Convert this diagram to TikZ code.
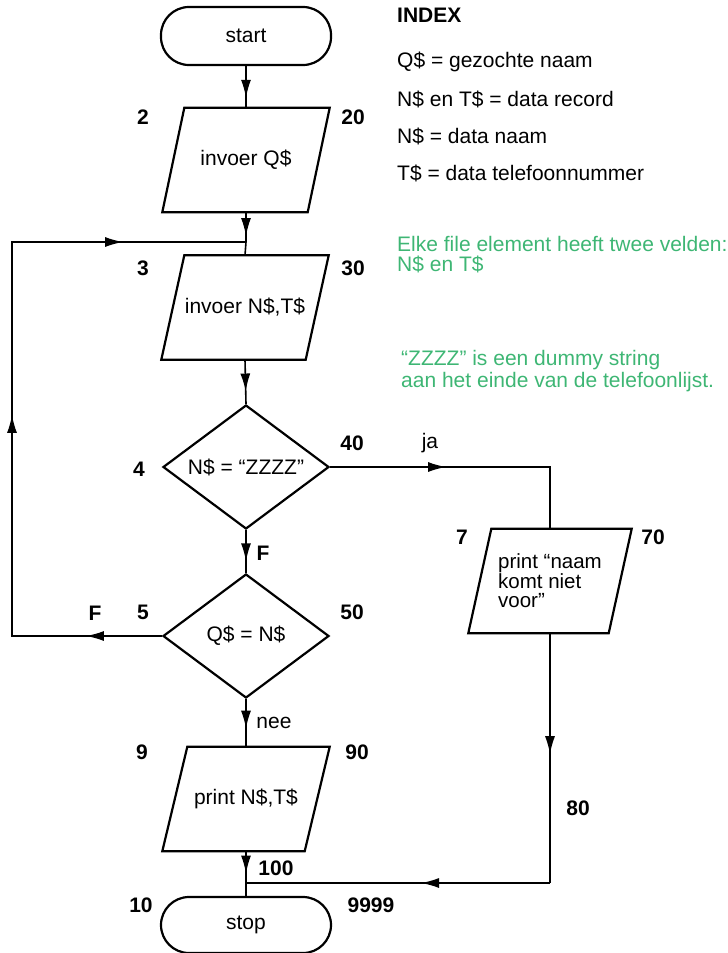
\documentclass[tikz,border=0pt]{standalone}
\usepackage{fontspec}
\setmainfont{Liberation Sans}
\usetikzlibrary{shapes.geometric,arrows.meta,decorations.markings,calc}
\definecolor{notegreen}{RGB}{62,182,116}
\newcommand\bodyfont{\fontsize{21}{25}\selectfont}
\newcommand\ioframe[2]{\draw[shapeline] (#1.south west) -- ($(#1.north west)+(#2,0)$) -- (#1.north east) -- ($(#1.south east)+(-#2,0)$) -- cycle;}
\tikzset{
  arr/.tip={Latex[length=18pt,width=10pt]},
  shapeline/.style={line width=2.2pt, draw=black, line join=miter},
  conn/.style={line width=1.6pt},
  arrowat/.style={postaction={decorate}, decoration={markings, mark=at position #1 with {\arrow{arr}}}},
  twoarrows/.style 2 args={postaction={decorate}, decoration={markings, mark=at position #1 with {\arrow{arr}}, mark=at position #2 with {\arrow{arr}}}},
  threearrows/.style n args={3}{postaction={decorate}, decoration={markings, mark=at position #1 with {\arrow{arr}}, mark=at position #2 with {\arrow{arr}}, mark=at position #3 with {\arrow{arr}}}},
  term/.style={draw, line width=2.2pt, rectangle, rounded corners=28pt, minimum width=170pt, minimum height=58pt, inner sep=0pt, font=\bodyfont},
  iobox/.style={rectangle, minimum width=167pt, minimum height=104pt, inner sep=0pt, font=\bodyfont},
  decision/.style={draw, line width=2.2pt, diamond, minimum width=166pt, minimum height=124pt, inner sep=0pt, shape aspect=1.34, font=\bodyfont},
  num/.style={font=\bodyfont\bfseries, inner sep=0pt},
  lbl/.style={font=\bodyfont, inner sep=0pt},
  idx/.style={font=\bodyfont, inner sep=0pt, anchor=west},
  note/.style={text=notegreen, inner sep=0pt, anchor=west, align=left},
}
\begin{document}
\begin{tikzpicture}[x=1pt,y=-1pt]
\useasboundingbox (0,0) rectangle (728,953);

% shapes
\node[term] (start) at (246,36) {start};
\node[iobox] (io1) at (246,160) {invoer Q\$};
\ioframe{io1}{22}
\node[iobox] (io2) at (245,307.5) {invoer N\$,T\$};
\ioframe{io2}{23}
\node[decision] (d1) at (246,467) {N\$ = “ZZZZ”};
\node[decision] (d2) at (246,636) {Q\$ = N\$};
\node[iobox, minimum width=163pt, align=left, font=\fontsize{20.5}{19.5}\selectfont] (io3) at (550,581) {print “naam\\komt niet\\voor”};
\ioframe{io3}{23}
\node[iobox] (io4) at (246,799) {print N\$,T\$};
\ioframe{io4}{25}
\node[term, minimum height=56pt] (stop) at (246,925) {stop};

% junctions and corners
\coordinate (j1) at (246,242);
\coordinate (c1) at (12,242);
\coordinate (c2) at (12,636);
\coordinate (j2) at (246,883);

% connectors
\draw[conn, arrowat=0.76] (start.south) -- (io1.north);
\draw[conn, arrowat=0.8] (io1.south) -- (j1);
\draw[conn] (j1) -- (io2.north);
\draw[conn, threearrows={76pt}{371pt}{655pt}] (d2.west) -- (c2) -- (c1) -- (j1);
\draw[conn, arrowat=0.72] (io2.south) -- (d1.north);
\draw[conn, arrowat=0.73] (d1.south) -- (d2.north);
\draw[conn, arrowat={116pt}] (d1.east) -- (io3.north |- d1.east) -- (io3.north);
\draw[conn, arrowat={121pt}] (io3.south) -- (io3.south |- j2);
\draw[conn, arrowat={129pt}] (io3.south |- j2) -- (j2);
\draw[conn, arrowat=0.62] (d2.south) -- (io4.north);
\draw[conn, arrowat=0.5] (io4.south) -- (stop.north);

% step numbers and branch labels
\node[num] (n2) at (143,117) {2};
\node[num] (n20) at (353,117) {20};
\node[num] (n3) at (143,268) {3};
\node[num] (n30) at (353,268) {30};
\node[num] (n4) at (139,469) {4};
\node[num] (n40) at (352,443) {40};
\node[lbl] (ja) at (430,443) {ja};
\node[num] (f1) at (263,553) {F};
\node[num] (n5) at (143,612) {5};
\node[num] (n50) at (352,612) {50};
\node[num] (f2) at (95,613) {F};
\node[num] (n7) at (462,537) {7};
\node[num] (n70) at (653,537) {70};
\node[lbl] (nee) at (274,723) {nee};
\node[num] (n9) at (142,752) {9};
\node[num] (n90) at (357,752) {90};
\node[num] (n80) at (578,808) {80};
\node[num] (n100) at (276,868) {100};
\node[num] (n10) at (141,905) {10};
\node[num] (n9999) at (371,905) {9999};

% index
\node[idx, font=\bodyfont\bfseries] (index) at (397,15) {INDEX};
\node[idx] (i1) at (397,62) {Q\$ = gezochte naam};
\node[idx] (i2) at (397,99) {N\$ en T\$ = data record};
\node[idx] (i3) at (397,136) {N\$ = data naam};
\node[idx] (i4) at (397,173) {T\$ = data telefoonnummer};

% green notes
\node[note, font=\fontsize{21}{20}\selectfont] (note1) at (397,255) {Elke file element heeft twee velden:\\N\$ en T\$};
\node[note, font=\fontsize{21}{22}\selectfont] (note2) at (401,371) {“ZZZZ” is een dummy string\\aan het einde van de telefoonlijst.};
\end{tikzpicture}
\end{document}
